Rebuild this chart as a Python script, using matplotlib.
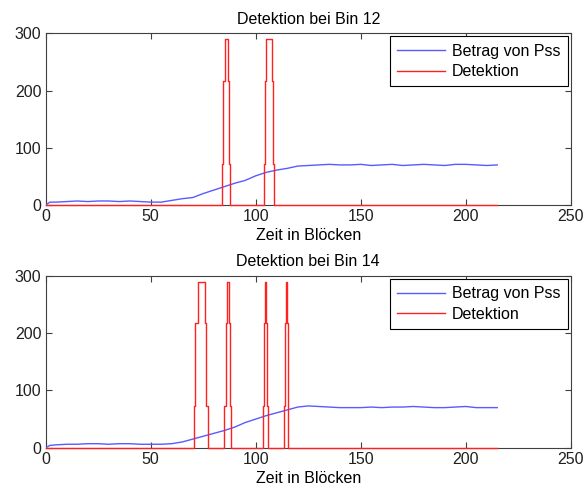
import matplotlib
matplotlib.use("Agg")
import matplotlib.pyplot as plt

plt.rcParams["font.family"] = ["Liberation Sans", "DejaVu Sans"]
plt.rcParams["font.size"] = 11.5

t = [0, 2, 5, 10, 15, 20, 25, 30, 35, 40, 45, 50, 55, 60, 65, 70, 75, 80,
     85, 90, 95, 100, 105, 110, 115, 120, 125, 130, 135, 140, 145, 150, 155,
     160, 165, 170, 175, 180, 185, 190, 195, 200, 205, 210, 215]
pss_12 = [0, 5, 5, 6, 7, 6, 7, 7, 6, 7, 6, 5, 5, 8, 11, 13, 20, 26,
          32, 38, 43, 51, 57, 61, 64, 68, 69, 70, 71, 70, 70, 71, 69,
          70, 71, 69, 70, 71, 70, 69, 71, 71, 70, 69, 70]
pss_14 = [0, 4, 5, 6, 6, 7, 7, 6, 7, 7, 6, 6, 6, 7, 10, 15, 20, 25,
          30, 36, 44, 50, 56, 61, 66, 71, 73, 72, 71, 70, 70, 70, 71,
          70, 71, 71, 72, 71, 70, 70, 71, 72, 70, 70, 70]

# detection pulses: edge positions (rise 3 steps, fall 3 steps) and step levels
levels = [0, 72, 217, 290]
pulses_12 = [
    [84.0, 84.6, 85.2, 86.8, 87.4, 87.9],
    [103.8, 104.3, 104.9, 107.8, 108.4, 108.9],
]
pulses_14 = [
    [70.6, 71.3, 72.5, 75.7, 76.5, 77.3],
    [85.1, 85.7, 86.2, 87.1, 87.6, 88.1],
    [103.6, 104.1, 104.6, 105.0, 105.5, 106.0],
    [113.6, 114.1, 114.6, 114.9, 115.2, 115.5],
]
t_end = 215


def detection_path(pulses):
    xs, ys = [0], [0]
    for p in pulses:
        # rising staircase
        xs += [p[0], p[0], p[1], p[1], p[2], p[2]]
        ys += [levels[0], levels[1], levels[1], levels[2], levels[2], levels[3]]
        # falling staircase
        xs += [p[3], p[3], p[4], p[4], p[5], p[5]]
        ys += [levels[3], levels[2], levels[2], levels[1], levels[1], levels[0]]
    xs.append(t_end)
    ys.append(0)
    return xs, ys


fig = plt.figure(figsize=(5.87, 4.91), dpi=100)
axes = [fig.add_axes([0.0779, 0.5825, 0.8944, 0.3497]),
        fig.add_axes([0.0779, 0.0882, 0.8944, 0.3497])]

for ax, pss, pulses, title in [(axes[0], pss_12, pulses_12, "Detektion bei Bin 12"),
                               (axes[1], pss_14, pulses_14, "Detektion bei Bin 14")]:
    ax.plot(t, pss, color="#5a5aff", lw=1.0, label="Betrag von Pss", zorder=3)
    dx, dy = detection_path(pulses)
    ax.plot(dx, dy, color="#ff2020", lw=1.0, label="Detektion", zorder=4, clip_on=False)
    ax.set_xlim(0, 250)
    ax.set_ylim(0, 300)
    ax.set_xticks([0, 50, 100, 150, 200, 250])
    ax.set_yticks([0, 100, 200, 300])
    ax.tick_params(direction="in", length=4, width=0.8, top=True, right=True,
                   colors="#404040", labelcolor="#202020", labelsize=11.5, pad=3)
    for s in ax.spines.values():
        s.set_color("#404040")
        s.set_linewidth(0.8)
    ax.set_title(title, fontsize=11.5, pad=7)
    ax.set_xlabel("Zeit in Blöcken", fontsize=11.5, labelpad=3)
    leg = ax.legend(loc="upper right", fancybox=False, framealpha=1,
                    edgecolor="black", fontsize=11.5, handlelength=3.0,
                    borderaxespad=0.2, labelspacing=0.35, borderpad=0.45,
                    handletextpad=0.45)
    leg.get_frame().set_linewidth(0.8)

fig.savefig("out.png", dpi=100, facecolor="white")
